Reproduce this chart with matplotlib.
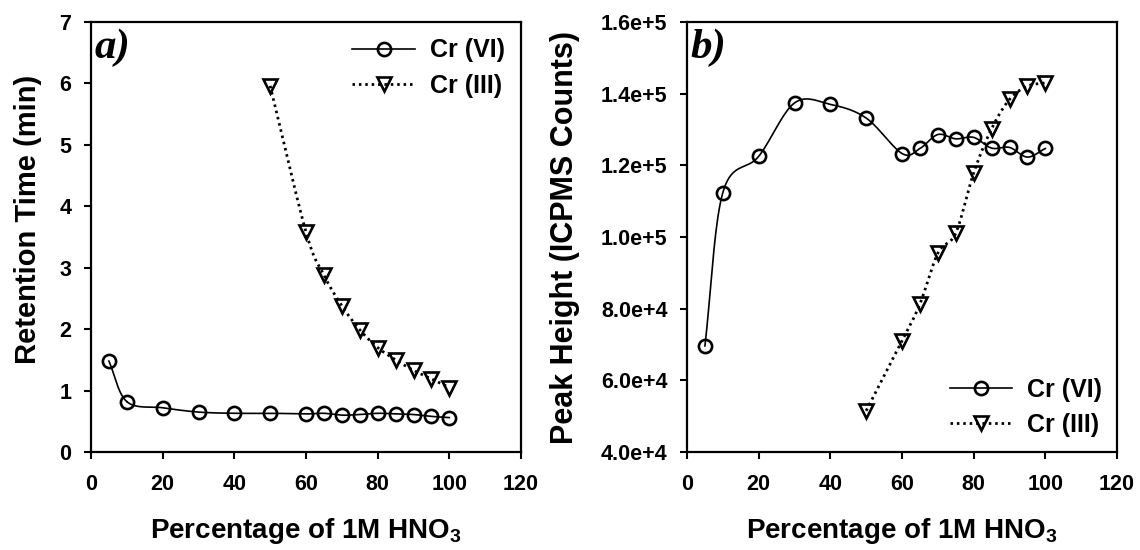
import numpy as np
import matplotlib
matplotlib.use("Agg")
import matplotlib.pyplot as plt
from matplotlib.ticker import FuncFormatter

plt.rcParams['font.family'] = ['Liberation Sans', 'DejaVu Sans']
plt.rcParams['font.weight'] = 'bold'
plt.rcParams['mathtext.fontset'] = 'custom'
plt.rcParams['mathtext.bf'] = 'Liberation Sans:bold'
plt.rcParams['mathtext.rm'] = 'Liberation Sans:bold'
plt.rcParams['mathtext.default'] = 'bf'

# data
pct_vi = [5, 10, 20, 30, 40, 50, 60, 65, 70, 75, 80, 85, 90, 95, 100]
pct_iii = [50, 60, 65, 70, 75, 80, 85, 90, 95, 100]

rt_vi = [1.48, 0.82, 0.72, 0.65, 0.63, 0.63, 0.62, 0.63, 0.60, 0.61, 0.63, 0.62, 0.61, 0.58, 0.56]
rt_iii = [5.96, 3.58, 2.88, 2.38, 1.99, 1.70, 1.50, 1.33, 1.19, 1.05]

ph_vi = [6.96e4, 1.124e5, 1.225e5, 1.374e5, 1.370e5, 1.332e5, 1.233e5, 1.247e5,
         1.286e5, 1.274e5, 1.278e5, 1.248e5, 1.250e5, 1.223e5, 1.247e5]
ph_iii = [5.15e4, 7.10e4, 8.13e4, 9.55e4, 1.011e5, 1.179e5, 1.302e5, 1.384e5, 1.421e5, 1.430e5]

xticks = [0, 20, 40, 60, 80, 100, 120]


def smooth(x, y, n=20):
    # catmull-rom curve through the points, like the spline in the original
    x = np.asarray(x, float)
    y = np.asarray(y, float)
    px = np.concatenate([[2 * x[0] - x[1]], x, [2 * x[-1] - x[-2]]])
    py = np.concatenate([[2 * y[0] - y[1]], y, [2 * y[-1] - y[-2]]])
    t = np.linspace(0, 1, n)
    xs, ys = [], []
    for i in range(1, len(px) - 2):
        for p, out in ((px, xs), (py, ys)):
            p0, p1, p2, p3 = p[i - 1], p[i], p[i + 1], p[i + 2]
            out.extend(0.5 * (2 * p1 + (-p0 + p2) * t + (2 * p0 - 5 * p1 + 4 * p2 - p3) * t ** 2
                              + (-p0 + 3 * p1 - 3 * p2 + p3) * t ** 3))
    return np.array(xs), np.array(ys)


fig = plt.figure(figsize=(11.4, 5.5), dpi=100)
ax1 = fig.add_axes([91 / 1140, 1 - 452 / 550, 430 / 1140, 430 / 550])
ax2 = fig.add_axes([687 / 1140, 1 - 452 / 550, 430 / 1140, 430 / 550])

dots = (0, (0.9, 1.4))
mk = dict(ms=9.5, mew=1.9, mfc='none', mec='black')


def draw(ax, yvi, yiii):
    sx, sy = smooth(pct_vi, yvi)
    ax.plot(sx, sy, color='black', lw=1.2, zorder=2)
    ax.plot(pct_vi, yvi, ls='none', marker='o', zorder=3, **mk)
    tx, ty = smooth(pct_iii, yiii)
    ax.plot(tx, ty, color='black', lw=2.0, ls=dots, zorder=2)
    ax.plot(pct_iii, yiii, ls='none', marker='v', zorder=3, **mk)
    # legend proxies
    h1, = ax.plot([], [], color='black', lw=1.2, marker='o', **mk)
    h2, = ax.plot([], [], color='black', lw=2.0, ls=dots, marker='v', **mk)
    ax.set_xlim(0, 120)
    ax.set_xticks(xticks)
    for s in ax.spines.values():
        s.set_linewidth(1.6)
    ax.tick_params(direction='out', length=5, width=1.5, labelsize=15.5)
    ax.tick_params(axis='x', pad=11)
    ax.tick_params(axis='y', pad=9)
    return h1, h2


leg = dict(frameon=False, fontsize=18, numpoints=1, handlelength=2.5, handletextpad=0.6,
           labelspacing=0.45)

h1, h2 = draw(ax1, rt_vi, rt_iii)
ax1.set_ylim(0, 7)
ax1.set_yticks(range(8))
ax1.set_ylabel('Retention Time (min)', fontsize=21, fontweight='bold')
ax1.yaxis.set_label_coords(-0.114, 0.542)
ax1.legend([h1, h2], ['Cr (VI)', 'Cr (III)'], loc='upper right', borderaxespad=0.25, **leg)
ax1.text(0.008, 0.985, 'a)', transform=ax1.transAxes, ha='left', va='top', fontsize=31,
         family='Liberation Serif', fontweight='bold', style='italic')

h1, h2 = draw(ax2, ph_vi, ph_iii)
ax2.set_ylim(4e4, 1.6e5)
ax2.set_yticks(np.arange(4e4, 1.61e5, 2e4))
ax2.yaxis.set_major_formatter(FuncFormatter(lambda v, p: '%.1fe+%d' % (v / 10 ** int(np.floor(np.log10(v))), int(np.floor(np.log10(v))))))
ax2.set_ylabel('Peak Height (ICPMS Counts)', fontsize=22, fontweight='bold')
ax2.yaxis.set_label_coords(-0.249, 0.5)
ax2.legend([h1, h2], ['Cr (VI)', 'Cr (III)'], loc='lower right', borderaxespad=0.2, **leg)
ax2.text(0.008, 0.985, 'b)', transform=ax2.transAxes, ha='left', va='top', fontsize=31,
         family='Liberation Serif', fontweight='bold', style='italic')

for ax in (ax1, ax2):
    ax.set_xlabel(r'Percentage of 1M HNO$_3$', fontsize=20, fontweight='bold')
    ax.xaxis.set_label_coords(0.5, -0.15)

fig.savefig('out.png', dpi=100)
